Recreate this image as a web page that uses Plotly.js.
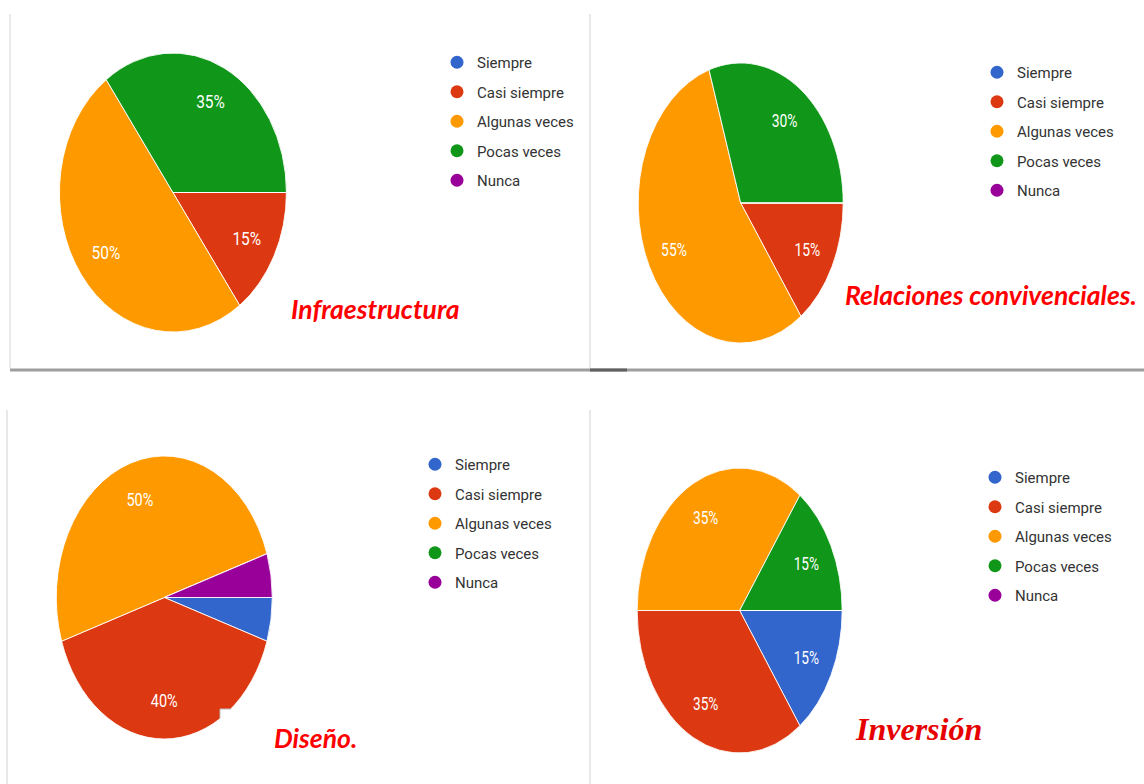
<!DOCTYPE html>
<html><head><meta charset="utf-8">
<script src="https://cdn.plot.ly/plotly-3.0.1.min.js"></script>
<style>
html,body{margin:0;padding:0;background:#fff;width:1144px;height:784px;overflow:hidden;}
.pie{position:absolute;transform-origin:0 0;}
#overlay{position:absolute;left:0;top:0;width:1144px;height:784px;}
</style></head><body>
<div id="p1" class="pie"></div>
<div id="p2" class="pie"></div>
<div id="p3" class="pie"></div>
<div id="p4" class="pie"></div>
<div id="overlay"></div>
<script>
// ---- data ----
const categories = ['Siempre', 'Casi siempre', 'Algunas veces', 'Pocas veces', 'Nunca'];
const infraestructura = [0, 15, 50, 35, 0];
const relaciones = [0, 15, 55, 30, 0];
const diseno = [5, 40, 50, 0, 5];
const inversion = [15, 35, 35, 15, 0];
const chartTitles = ['Infraestructura', 'Relaciones convivenciales.', 'Diseño.', 'Inversión'];

// ---- styling / layout ----
const colors = ['#3366cc', '#dc3912', '#ff9900', '#109618', '#990099'];
const W = 1144, H = 784;
const pieBoxes = [
  {id: 'p1', cx: 172.5, cy: 192.5, rx: 113.5, ry: 139.5},
  {id: 'p2', cx: 740.5, cy: 203, rx: 102.5, ry: 140},
  {id: 'p3', cx: 164.5, cy: 597.5, rx: 108, ry: 141.5},
  {id: 'p4', cx: 740, cy: 610.5, rx: 102.5, ry: 142.5}
];
const legendPos = [{x: 458, y: 61}, {x: 998, y: 71}, {x: 436, y: 463}, {x: 996, y: 476}];
const titlePos = [
  {x: 289, y: 309, font: 'Lato', size: 26.5, color: '#ff0000'},
  {x: 843, y: 295, font: 'Lato', size: 26.5, color: '#ff0000'},
  {x: 272, y: 738, font: 'Lato', size: 26.5, color: '#ff0000'},
  {x: 853, y: 729, font: 'Liberation Serif', size: 32, color: '#e60000'}
];
const allValues = [infraestructura, relaciones, diseno, inversion];

function drawPie(box, values) {
  const pad = 3, hole = 0.46;
  const size = 2 * box.ry + 2 * pad;
  const s = box.rx / box.ry;
  const el = document.getElementById(box.id);
  el.style.left = (box.cx - (box.ry + pad) * s) + 'px';
  el.style.top = (box.cy - box.ry - pad) + 'px';
  el.style.width = size + 'px';
  el.style.height = size + 'px';
  el.style.transform = 'scaleX(' + s + ')';
  const d0 = pad / size, d1 = 1 - pad / size;
  const text = values.map(v => v >= 10 ? v + '%' : '');
  // filled pie with white separators
  const fill = {
    type: 'pie', labels: categories, values: values, sort: false,
    direction: 'clockwise', rotation: 90, textinfo: 'none',
    marker: {colors: colors, line: {color: '#ffffff', width: 1}},
    domain: {x: [d0, d1], y: [d0, d1]}, hoverinfo: 'skip', showlegend: false
  };
  // transparent ring on top that carries the percentage labels
  const labels = {
    type: 'pie', labels: categories, values: values, sort: false,
    direction: 'clockwise', rotation: 90, hole: hole,
    text: text, textinfo: 'text', textposition: 'inside',
    textfont: {family: 'Roboto', size: 19, color: '#ffffff'},
    marker: {colors: categories.map(() => 'rgba(0,0,0,0)'), line: {width: 0}},
    domain: {x: [d0, d1], y: [d0, d1]}, hoverinfo: 'skip', showlegend: false
  };
  Plotly.newPlot(el, [fill, labels], {
    width: size, height: size, margin: {l: 0, r: 0, t: 0, b: 0},
    paper_bgcolor: 'rgba(0,0,0,0)', showlegend: false
  }, {staticPlot: true});
}
pieBoxes.forEach((b, i) => drawPie(b, allValues[i]));

// ---- overlay: legends, titles, separators ----
const px = x => x / W, py = y => 1 - y / H;
const traces = [];
const layout = {
  width: W, height: H, margin: {l: 0, r: 0, t: 0, b: 0},
  paper_bgcolor: 'rgba(0,0,0,0)', plot_bgcolor: 'rgba(0,0,0,0)',
  xaxis: {visible: false, range: [0, 1]}, yaxis: {visible: false, range: [0, 1]},
  showlegend: true, annotations: [], shapes: []
};
legendPos.forEach((lp, q) => {
  const lname = q === 0 ? 'legend' : 'legend' + (q + 1);
  categories.forEach((c, j) => {
    traces.push({type: 'scatter', mode: 'markers', x: [null], y: [null], name: c,
      marker: {color: colors[j], size: 13}, legend: lname, legendgroup: 'q' + q + 'c' + j,
      hoverinfo: 'skip'});
  });
  layout[lname] = {
    x: px(lp.x - 21), y: py(lp.y - 15), xanchor: 'left', yanchor: 'top',
    bgcolor: 'rgba(0,0,0,0)', font: {family: 'Roboto', size: 15, color: '#333333'},
    traceorder: 'grouped', tracegroupgap: 7, itemclick: false, itemdoubleclick: false
  };
});
chartTitles.forEach((t, i) => {
  const p = titlePos[i];
  layout.annotations.push({
    xref: 'paper', yref: 'paper', x: px(p.x), y: py(p.y), xanchor: 'left', yanchor: 'middle',
    showarrow: false, text: '<b><i>' + t + '</i></b>',
    font: {family: p.font, size: p.size, color: p.color}
  });
});
function line(x0, y0, x1, y1, color, width) {
  layout.shapes.push({type: 'line', xref: 'paper', yref: 'paper', x0: px(x0), y0: py(y0), x1: px(x1), y1: py(y1),
    line: {color: color, width: width}});
}
function rect(x0, y0, x1, y1, color) {
  layout.shapes.push({type: 'rect', xref: 'paper', yref: 'paper', x0: px(x0), y0: py(y0), x1: px(x1), y1: py(y1),
    fillcolor: color, line: {width: 0}});
}
line(10, 14, 10, 368, '#e4e4e4', 1.5);
line(590, 14, 590, 368, '#e0e0e0', 1.5);
line(7, 410, 7, 784, '#e0e0e0', 1.5);
line(590, 410, 590, 784, '#e0e0e0', 1.5);
rect(10, 368.5, 1144, 371.5, '#9e9e9e');
rect(590, 368.5, 627, 371.5, '#616161');
rect(220, 709, 300, 760, '#ffffff');
line(220, 709, 231, 709, '#bdbdbd', 1);
line(220, 709, 220, 718, '#bdbdbd', 1);

Plotly.newPlot('overlay', traces, layout, {staticPlot: true});
</script>
</body></html>
